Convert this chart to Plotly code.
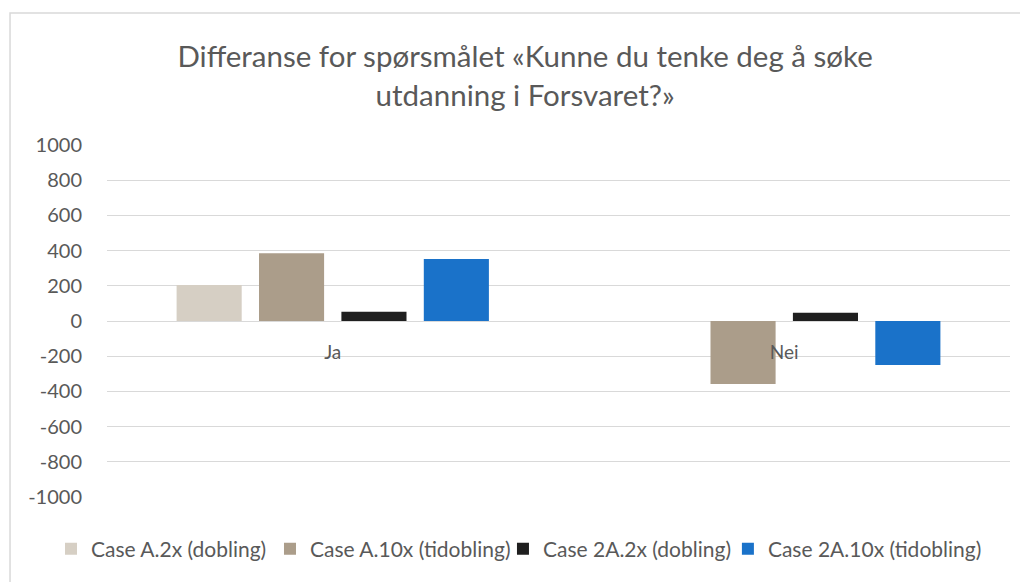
import plotly.graph_objects as go

categories = ["Ja", "Nei"]
series_names = ["Case A.2x (dobling)", "Case A.10x (tidobling)", "Case 2A.2x (dobling)", "Case 2A.10x (tidobling)"]
a2x = [204, 0]
a10x = [385, -358]
a2a2x = [53, 47]
a2a10x = [352, -250]
colors = ["#d6cfc4", "#ab9d8a", "#1f1f1f", "#1a72c9"]
tick_vals = list(range(-1000, 1001, 200))
tick_text = [str(v) for v in tick_vals]

legend_ids = ["legend", "legend2", "legend3", "legend4"]
legend_x = [-0.0620, 0.1805, 0.4385, 0.6876]

fig = go.Figure()
for name, vals, col, lid in zip(series_names, [a2x, a10x, a2a2x, a2a10x], colors, legend_ids):
    fig.add_trace(go.Bar(name=name, x=categories, y=vals, marker_color=col,
                         marker_line_width=0, legend=lid))

font_fam = "Lato, 'Open Sans', sans-serif"
legend_cfg = {}
for lid, lx in zip(legend_ids, legend_x):
    legend_cfg[lid] = dict(orientation="h", x=lx, xanchor="left", y=-0.1477, yanchor="middle",
                           font=dict(size=21, color="#595959"), itemwidth=30,
                           bgcolor="rgba(0,0,0,0)", borderwidth=0)

fig.update_layout(
    width=1028, height=582,
    margin=dict(l=99, r=26, t=137, b=93),
    paper_bgcolor="white", plot_bgcolor="white",
    barmode="group", bargap=0.27, bargroupgap=0.21,
    font=dict(family=font_fam, color="#595959", size=19),
    title=dict(text="Differanse for spørsmålet «Kunne du tenke deg å søke<br>utdanning i Forsvaret?»",
               x=0.503, xanchor="center", y=0.898, yanchor="middle",
               font=dict(size=29.5, color="#595959", family=font_fam)),
    showlegend=True,
    xaxis=dict(showgrid=False, showline=False, ticks="", anchor="free", position=0.5,
               tickfont=dict(size=19, color="#595959"), ticklabelstandoff=18),
    yaxis=dict(range=[-1000, 1000], tickvals=tick_vals, ticktext=tick_text, showgrid=True,
               gridcolor="#d9d9d9", gridwidth=1, zeroline=True, zerolinecolor="#d9d9d9",
               zerolinewidth=1, ticks="", ticklabelstandoff=24,
               tickfont=dict(size=20, color="#595959")),
    shapes=[dict(type="rect", xref="paper", yref="paper", x0=-0.1074, x1=1.2, y0=-0.5, y1=1.375,
                 line=dict(color="#d9d9d9", width=1.5), fillcolor="rgba(0,0,0,0)", layer="below")],
    **legend_cfg,
)
fig.write_html("out.html")
